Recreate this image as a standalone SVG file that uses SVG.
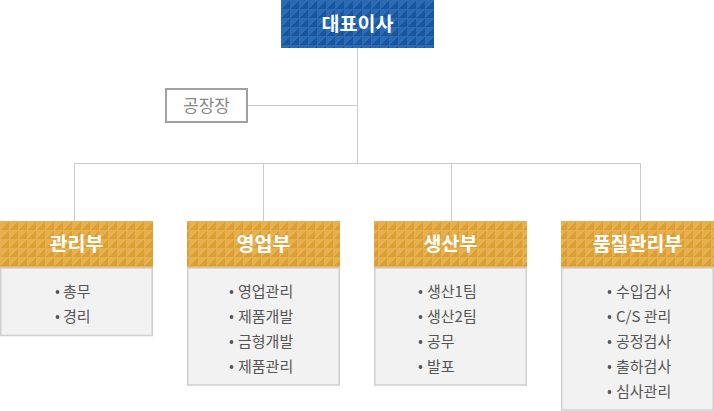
<svg xmlns="http://www.w3.org/2000/svg" width="714" height="411" viewBox="0 0 714 411">
<defs>
<pattern id="pb" patternUnits="userSpaceOnUse" width="9" height="9" x="281" y="0">
<rect width="9" height="9" fill="#18579f"/>
<polygon points="0,0 9,0 0,9" fill="#2a6bb4"/>
<line x1="0" y1="9" x2="9" y2="0" stroke="#3a78bd" stroke-width="0.6"/>
</pattern>
<pattern id="po" patternUnits="userSpaceOnUse" width="9" height="9" x="0" y="221">
<rect width="9" height="9" fill="#dc9f33"/>
<polygon points="0,0 9,0 0,9" fill="#e6b04f"/>
<line x1="0" y1="9" x2="9" y2="0" stroke="#ecbd66" stroke-width="0.6"/>
</pattern>
</defs>
<style>
.hd{font-family:"Noto Sans CJK KR","Noto Sans",sans-serif;font-weight:bold;font-size:19.5px;fill:#fff;text-anchor:middle}
.it{font-family:"Noto Sans CJK KR","Noto Sans",sans-serif;font-size:15px;fill:#555}
.body{fill:#f2f2f2;stroke:#cfcfcf;stroke-width:1.5}
.ln{stroke:#cccccc;stroke-width:1;fill:none}
.dot{fill:#555}
</style>
<g id="connectors">
<path class="ln" d="M357.5,48 V163.5 M247,105.5 H357.5 M74.5,163.5 H640.5 M74.5,163 V221 M263.5,163 V221 M451.5,163 V221 M640.5,163 V221"/>
</g>
<g id="ceo">
<rect x="281" y="0" width="153" height="48" fill="url(#pb)"/>
<text class="hd" x="357.5" y="31">대표이사</text>
</g>
<g id="factory">
<rect x="166" y="89" width="81" height="33" fill="#fff" stroke="#a0a0a0" stroke-width="2"/>
<text x="206.5" y="111.5" font-family="'Noto Sans CJK KR','Noto Sans',sans-serif" font-size="17" fill="#888" text-anchor="middle">공장장</text>
</g>
<g id="admin">
<rect x="0" y="221" width="153" height="47" fill="url(#po)"/>
<text class="hd" x="76.5" y="251">관리부</text>
<rect class="body" x="0.75" y="268" width="151.5" height="67.5"/>
<circle class="dot" cx="57.5" cy="292" r="1.9"/><text class="it" x="63" y="297">총무</text>
<circle class="dot" cx="57.5" cy="317" r="1.9"/><text class="it" x="63" y="322">경리</text>
</g>
<g id="sales">
<rect x="187" y="221" width="153" height="47" fill="url(#po)"/>
<text class="hd" x="263.5" y="251">영업부</text>
<rect class="body" x="187.75" y="268" width="151.5" height="117"/>
<circle class="dot" cx="231.5" cy="292" r="1.9"/><text class="it" x="238" y="297">영업관리</text>
<circle class="dot" cx="231.5" cy="317" r="1.9"/><text class="it" x="238" y="322">제품개발</text>
<circle class="dot" cx="231.5" cy="342" r="1.9"/><text class="it" x="238" y="347">금형개발</text>
<circle class="dot" cx="231.5" cy="367" r="1.9"/><text class="it" x="238" y="372">제품관리</text>
</g>
<g id="production">
<rect x="374" y="221" width="153" height="47" fill="url(#po)"/>
<text class="hd" x="450.5" y="251">생산부</text>
<rect class="body" x="374.75" y="268" width="151.5" height="117"/>
<circle class="dot" cx="420.5" cy="292" r="1.9"/><text class="it" x="427" y="297">생산1팀</text>
<circle class="dot" cx="420.5" cy="317" r="1.9"/><text class="it" x="427" y="322">생산2팀</text>
<circle class="dot" cx="420.5" cy="342" r="1.9"/><text class="it" x="427" y="347">공무</text>
<circle class="dot" cx="420.5" cy="367" r="1.9"/><text class="it" x="427" y="372">발포</text>
</g>
<g id="quality">
<rect x="561" y="221" width="153" height="47" fill="url(#po)"/>
<text class="hd" x="637.5" y="251">품질관리부</text>
<rect class="body" x="561.75" y="268" width="151.5" height="142"/>
<circle class="dot" cx="609.5" cy="292" r="1.9"/><text class="it" x="616" y="297">수입검사</text>
<circle class="dot" cx="609.5" cy="317" r="1.9"/><text class="it" x="616" y="322">C/S 관리</text>
<circle class="dot" cx="609.5" cy="342" r="1.9"/><text class="it" x="616" y="347">공정검사</text>
<circle class="dot" cx="609.5" cy="367" r="1.9"/><text class="it" x="616" y="372">출하검사</text>
<circle class="dot" cx="609.5" cy="392" r="1.9"/><text class="it" x="616" y="397">심사관리</text>
</g>
</svg>
